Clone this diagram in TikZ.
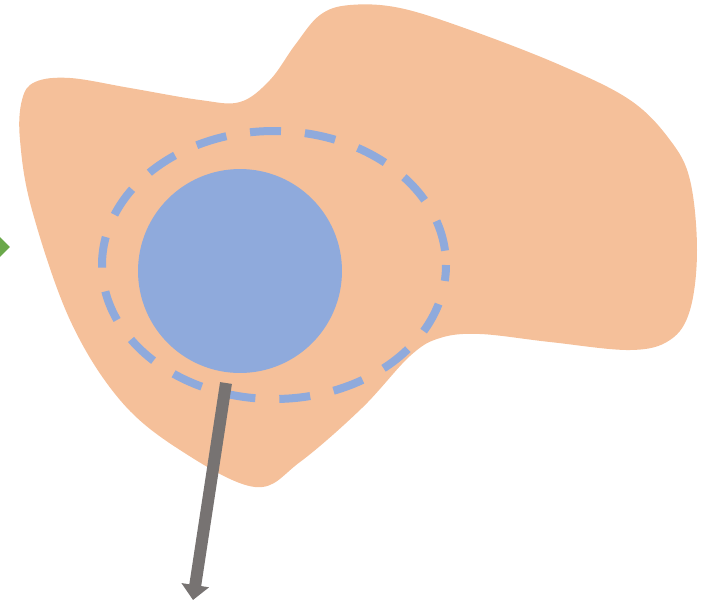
\documentclass[tikz,border=0pt]{standalone}
\usepackage{xcolor}
\definecolor{BlobOrange}{RGB}{245,192,154}
\definecolor{CoreBlue}{RGB}{143,170,220}
\definecolor{ArrowGray}{RGB}{119,115,114}
\definecolor{MarkGreen}{RGB}{106,168,74}
\usepackage{tikz}
\usetikzlibrary{arrows.meta,positioning,shapes.geometric,calc}

\begin{document}
\begin{tikzpicture}[x=0.02cm,y=-0.02cm]
\useasboundingbox (0,0) rectangle (711,603);
\clip (0,0) rectangle (711,603);
% blob
\fill[BlobOrange] plot[smooth cycle,tension=0.6] coordinates {
  (22,100) (35,82) (70,78) (130,88) (200,100) (240,102) (270,80) (295,45)
  (320,15) (350,5) (400,8) (470,30) (560,65) (630,100) (670,140) (690,180)
  (697,250) (690,310) (670,340) (630,350) (550,342) (480,334) (440,338)
  (410,356) (362,408) (300,462) (255,487) (180,450) (120,400) (70,320)
  (32,210) (20,140)};
% marker
\node[diamond,fill=MarkGreen,inner sep=0pt,
  minimum width=0.52cm,minimum height=0.52cm] (mark) at (-3,247) {};
% core and ring
\node[circle,fill=CoreBlue,minimum size=4.08cm,inner sep=0pt] (core) at (240,271) {};
\draw[CoreBlue,line width=0.16cm,dash pattern=on 0.62cm off 0.48cm,dash phase=0.3cm]
  (274,265) ellipse [x radius=172,y radius=134];
% arrow
\coordinate (start) at (226,383);
\coordinate (finish) at (193,600);
\draw[ArrowGray,line width=0.24cm,-{Triangle[width=0.54cm,length=0.3cm]}] (start) -- (finish);
\end{tikzpicture}
\end{document}
